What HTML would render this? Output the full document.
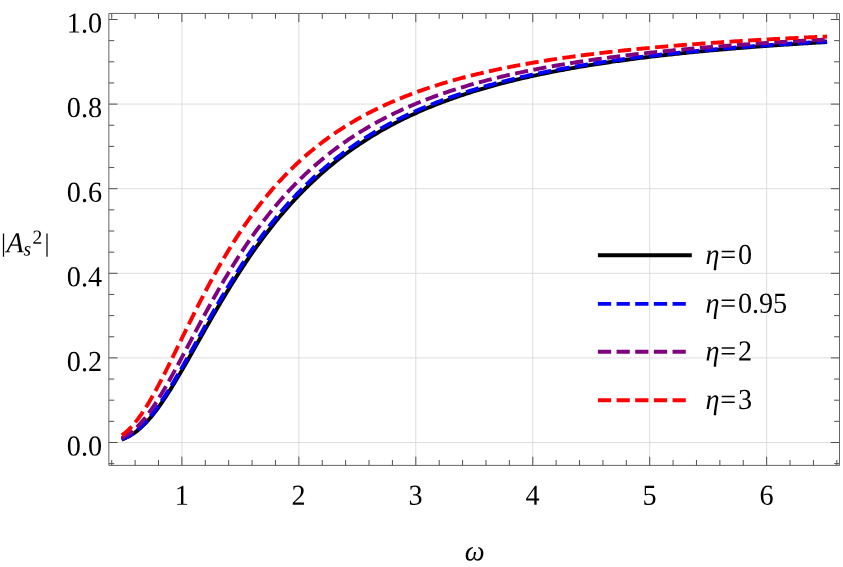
<!DOCTYPE html>
<html><head><meta charset="utf-8"><title>plot</title>
<style>html,body{margin:0;padding:0;background:#fff}body{width:843px;height:567px;position:relative;overflow:hidden;font-family:"Liberation Serif",serif}</style>
</head><body>
<svg width="843" height="567" viewBox="0 0 843 567" style="position:absolute;left:0;top:0;will-change:transform;opacity:0.999">
<path d="M181.90 13.45 V465.40 M298.85 13.45 V465.40 M415.80 13.45 V465.40 M532.75 13.45 V465.40 M649.70 13.45 V465.40 M766.65 13.45 V465.40 M108.85 442.50 H839.50 M108.85 357.90 H839.50 M108.85 273.30 H839.50 M108.85 188.70 H839.50 M108.85 104.10 H839.50" stroke="#dadada" stroke-width="0.9" fill="none"/>
<g fill="none" stroke-width="3.90" stroke-linecap="square" stroke-linejoin="round">
<path d="M123.43 438.83 L125.18 438.11 L126.93 437.31 L128.69 436.42 L130.44 435.44 L132.20 434.37 L133.95 433.21 L135.70 431.94 L137.46 430.59 L139.21 429.14 L140.97 427.59 L142.72 425.95 L144.48 424.22 L146.23 422.40 L147.98 420.49 L149.74 418.49 L151.49 416.41 L153.25 414.25 L155.00 412.01 L156.76 409.70 L158.51 407.31 L160.26 404.86 L162.02 402.34 L163.77 399.76 L165.53 397.13 L167.28 394.44 L169.04 391.69 L170.79 388.91 L172.54 386.07 L174.30 383.20 L176.05 380.29 L177.81 377.35 L179.56 374.38 L181.32 371.38 L183.07 368.36 L184.82 365.32 L186.58 362.25 L188.33 359.18 L190.09 356.09 L191.84 352.99 L193.60 349.88 L195.35 346.77 L197.10 343.66 L198.86 340.54 L200.61 337.43 L202.37 334.32 L204.12 331.22 L205.87 328.12 L207.63 325.03 L209.38 321.96 L211.14 318.89 L212.89 315.84 L214.65 312.80 L216.40 309.78 L218.15 306.78 L219.91 303.79 L221.66 300.82 L223.42 297.88 L225.17 294.95 L226.93 292.05 L228.68 289.16 L230.43 286.30 L232.19 283.47 L233.94 280.66 L235.70 277.87 L237.45 275.11 L239.21 272.37 L240.96 269.66 L242.71 266.98 L244.47 264.32 L246.22 261.69 L247.98 259.09 L249.73 256.51 L251.49 253.96 L253.24 251.44 L254.99 248.94 L256.75 246.48 L258.50 244.04 L260.26 241.62 L262.01 239.24 L263.76 236.88 L265.52 234.55 L267.27 232.25 L269.03 229.97 L270.78 227.72 L272.54 225.50 L274.29 223.30 L276.04 221.13 L277.80 218.99 L279.55 216.87 L281.31 214.78 L283.06 212.72 L284.82 210.68 L286.57 208.67 L288.32 206.68 L290.08 204.71 L291.83 202.77 L293.59 200.86 L295.34 198.97 L297.10 197.10 L298.85 195.26 L300.60 193.44 L302.36 191.64 L304.11 189.87 L305.87 188.12 L307.62 186.39 L309.38 184.68 L311.13 183.00 L312.88 181.34 L314.64 179.70 L316.39 178.08 L318.15 176.48 L319.90 174.90 L321.66 173.34 L323.41 171.80 L325.16 170.28 L326.92 168.78 L328.67 167.30 L330.43 165.84 L332.18 164.40 L333.94 162.98 L335.69 161.57 L337.44 160.18 L339.20 158.82 L340.95 157.46 L342.71 156.13 L344.46 154.81 L346.21 153.51 L347.97 152.23 L349.72 150.96 L351.48 149.71 L353.23 148.47 L354.99 147.25 L356.74 146.05 L358.49 144.86 L360.25 143.68 L362.00 142.52 L363.76 141.38 L365.51 140.25 L367.27 139.13 L369.02 138.03 L370.77 136.94 L372.53 135.86 L374.28 134.80 L376.04 133.75 L377.79 132.72 L379.55 131.69 L381.30 130.68 L383.05 129.68 L384.81 128.70 L386.56 127.72 L388.32 126.76 L390.07 125.81 L391.83 124.87 L393.58 123.95 L395.33 123.03 L397.09 122.13 L398.84 121.23 L400.60 120.35 L402.35 119.48 L404.11 118.62 L405.86 117.76 L407.61 116.92 L409.37 116.09 L411.12 115.27 L412.88 114.46 L414.63 113.66 L416.38 112.86 L418.14 112.08 L419.89 111.30 L421.65 110.54 L423.40 109.78 L425.16 109.03 L426.91 108.30 L428.66 107.57 L430.42 106.84 L432.17 106.13 L433.93 105.42 L435.68 104.73 L437.44 104.04 L439.19 103.36 L440.94 102.68 L442.70 102.02 L444.45 101.36 L446.21 100.71 L447.96 100.06 L449.72 99.42 L451.47 98.80 L453.22 98.17 L454.98 97.56 L456.73 96.95 L458.49 96.35 L460.24 95.75 L462.00 95.16 L463.75 94.58 L465.50 94.00 L467.26 93.43 L469.01 92.87 L470.77 92.31 L472.52 91.76 L474.27 91.21 L476.03 90.67 L477.78 90.14 L479.54 89.61 L481.29 89.09 L483.05 88.57 L484.80 88.06 L486.55 87.55 L488.31 87.05 L490.06 86.56 L491.82 86.07 L493.57 85.58 L495.33 85.10 L497.08 84.63 L498.83 84.16 L500.59 83.69 L502.34 83.23 L504.10 82.78 L505.85 82.32 L507.61 81.88 L509.36 81.44 L511.11 81.00 L512.87 80.56 L514.62 80.14 L516.38 79.71 L518.13 79.29 L519.89 78.88 L521.64 78.46 L523.39 78.06 L525.15 77.65 L526.90 77.25 L528.66 76.86 L530.41 76.47 L532.17 76.08 L533.92 75.69 L535.67 75.31 L537.43 74.94 L539.18 74.56 L540.94 74.20 L542.69 73.83 L544.44 73.47 L546.20 73.11 L547.95 72.75 L549.71 72.40 L551.46 72.05 L553.22 71.71 L554.97 71.37 L556.72 71.03 L558.48 70.69 L560.23 70.36 L561.99 70.03 L563.74 69.71 L565.50 69.38 L567.25 69.06 L569.00 68.75 L570.76 68.43 L572.51 68.12 L574.27 67.81 L576.02 67.51 L577.78 67.20 L579.53 66.90 L581.28 66.61 L583.04 66.31 L584.79 66.02 L586.55 65.73 L588.30 65.44 L590.06 65.16 L591.81 64.88 L593.56 64.60 L595.32 64.32 L597.07 64.05 L598.83 63.78 L600.58 63.51 L602.34 63.24 L604.09 62.98 L605.84 62.72 L607.60 62.46 L609.35 62.20 L611.11 61.94 L612.86 61.69 L614.62 61.44 L616.37 61.19 L618.12 60.95 L619.88 60.70 L621.63 60.46 L623.39 60.22 L625.14 59.98 L626.89 59.75 L628.65 59.51 L630.40 59.28 L632.16 59.05 L633.91 58.82 L635.67 58.60 L637.42 58.37 L639.17 58.15 L640.93 57.93 L642.68 57.71 L644.44 57.49 L646.19 57.28 L647.95 57.06 L649.70 56.85 L651.45 56.64 L653.21 56.43 L654.96 56.23 L656.72 56.02 L658.47 55.82 L660.23 55.62 L661.98 55.42 L663.73 55.22 L665.49 55.02 L667.24 54.83 L669.00 54.64 L670.75 54.44 L672.51 54.25 L674.26 54.07 L676.01 53.88 L677.77 53.69 L679.52 53.51 L681.28 53.33 L683.03 53.14 L684.78 52.96 L686.54 52.79 L688.29 52.61 L690.05 52.43 L691.80 52.26 L693.56 52.08 L695.31 51.91 L697.06 51.74 L698.82 51.57 L700.57 51.41 L702.33 51.24 L704.08 51.07 L705.84 50.91 L707.59 50.75 L709.34 50.59 L711.10 50.43 L712.85 50.27 L714.61 50.11 L716.36 49.95 L718.12 49.80 L719.87 49.64 L721.62 49.49 L723.38 49.34 L725.13 49.19 L726.89 49.04 L728.64 48.89 L730.40 48.74 L732.15 48.59 L733.90 48.45 L735.66 48.30 L737.41 48.16 L739.17 48.02 L740.92 47.88 L742.68 47.74 L744.43 47.60 L746.18 47.46 L747.94 47.32 L749.69 47.19 L751.45 47.05 L753.20 46.92 L754.96 46.79 L756.71 46.65 L758.46 46.52 L760.22 46.39 L761.97 46.26 L763.73 46.13 L765.48 46.01 L767.23 45.88 L768.99 45.75 L770.74 45.63 L772.50 45.50 L774.25 45.38 L776.01 45.26 L777.76 45.14 L779.51 45.02 L781.27 44.90 L783.02 44.78 L784.78 44.66 L786.53 44.54 L788.29 44.43 L790.04 44.31 L791.79 44.20 L793.55 44.08 L795.30 43.97 L797.06 43.86 L798.81 43.74 L800.57 43.63 L802.32 43.52 L804.07 43.41 L805.83 43.30 L807.58 43.20 L809.34 43.09 L811.09 42.98 L812.85 42.88 L814.60 42.77 L816.35 42.67 L818.11 42.56 L819.86 42.46 L821.62 42.36 L823.37 42.26 L825.12 42.15" stroke="#000"/>
<path d="M123.43 438.52 L125.18 437.76 L126.93 436.91 L128.69 435.96 L130.44 434.93 L132.20 433.79 L133.95 432.56 L135.70 431.23 L137.46 429.81 L139.21 428.28 L140.97 426.66 L142.72 424.95 L144.48 423.14 L146.23 421.24 L147.98 419.25 L149.74 417.17 L151.49 415.01 L153.25 412.77 L155.00 410.45 L156.76 408.05 L158.51 405.59 L160.26 403.06 L162.02 400.46 L163.77 397.80 L165.53 395.09 L167.28 392.32 L169.04 389.51 L170.79 386.65 L172.54 383.75 L174.30 380.81 L176.05 377.83 L177.81 374.82 L179.56 371.79 L181.32 368.73 L183.07 365.65 L184.82 362.55 L186.58 359.43 L188.33 356.30 L190.09 353.16 L191.84 350.02 L193.60 346.87 L195.35 343.71 L197.10 340.56 L198.86 337.40 L200.61 334.25 L202.37 331.11 L204.12 327.97 L205.87 324.84 L207.63 321.72 L209.38 318.62 L211.14 315.53 L212.89 312.45 L214.65 309.39 L216.40 306.35 L218.15 303.33 L219.91 300.33 L221.66 297.34 L223.42 294.38 L225.17 291.44 L226.93 288.53 L228.68 285.64 L230.43 282.77 L232.19 279.93 L233.94 277.11 L235.70 274.32 L237.45 271.56 L239.21 268.82 L240.96 266.11 L242.71 263.42 L244.47 260.77 L246.22 258.14 L247.98 255.54 L249.73 252.97 L251.49 250.42 L253.24 247.90 L254.99 245.42 L256.75 242.96 L258.50 240.52 L260.26 238.12 L262.01 235.75 L263.76 233.40 L265.52 231.08 L267.27 228.79 L269.03 226.52 L270.78 224.28 L272.54 222.07 L274.29 219.89 L276.04 217.74 L277.80 215.61 L279.55 213.50 L281.31 211.43 L283.06 209.38 L284.82 207.35 L286.57 205.36 L288.32 203.38 L290.08 201.44 L291.83 199.51 L293.59 197.61 L295.34 195.74 L297.10 193.89 L298.85 192.07 L300.60 190.26 L302.36 188.48 L304.11 186.73 L305.87 185.00 L307.62 183.29 L309.38 181.60 L311.13 179.93 L312.88 178.29 L314.64 176.66 L316.39 175.06 L318.15 173.48 L319.90 171.92 L321.66 170.38 L323.41 168.86 L325.16 167.36 L326.92 165.88 L328.67 164.42 L330.43 162.97 L332.18 161.55 L333.94 160.15 L335.69 158.76 L337.44 157.39 L339.20 156.04 L340.95 154.70 L342.71 153.39 L344.46 152.09 L346.21 150.81 L347.97 149.54 L349.72 148.29 L351.48 147.06 L353.23 145.84 L354.99 144.63 L356.74 143.45 L358.49 142.28 L360.25 141.12 L362.00 139.98 L363.76 138.85 L365.51 137.73 L367.27 136.64 L369.02 135.55 L370.77 134.48 L372.53 133.42 L374.28 132.37 L376.04 131.34 L377.79 130.32 L379.55 129.32 L381.30 128.32 L383.05 127.34 L384.81 126.37 L386.56 125.41 L388.32 124.47 L390.07 123.53 L391.83 122.61 L393.58 121.70 L395.33 120.80 L397.09 119.91 L398.84 119.03 L400.60 118.16 L402.35 117.30 L404.11 116.46 L405.86 115.62 L407.61 114.79 L409.37 113.98 L411.12 113.17 L412.88 112.37 L414.63 111.58 L416.38 110.81 L418.14 110.04 L419.89 109.28 L421.65 108.52 L423.40 107.78 L425.16 107.05 L426.91 106.32 L428.66 105.61 L430.42 104.90 L432.17 104.20 L433.93 103.50 L435.68 102.82 L437.44 102.14 L439.19 101.47 L440.94 100.81 L442.70 100.16 L444.45 99.51 L446.21 98.87 L447.96 98.24 L449.72 97.62 L451.47 97.00 L453.22 96.39 L454.98 95.79 L456.73 95.19 L458.49 94.60 L460.24 94.01 L462.00 93.44 L463.75 92.86 L465.50 92.30 L467.26 91.74 L469.01 91.19 L470.77 90.64 L472.52 90.10 L474.27 89.57 L476.03 89.04 L477.78 88.51 L479.54 88.00 L481.29 87.48 L483.05 86.98 L484.80 86.48 L486.55 85.98 L488.31 85.49 L490.06 85.00 L491.82 84.52 L493.57 84.05 L495.33 83.58 L497.08 83.11 L498.83 82.65 L500.59 82.20 L502.34 81.75 L504.10 81.30 L505.85 80.86 L507.61 80.42 L509.36 79.99 L511.11 79.56 L512.87 79.13 L514.62 78.71 L516.38 78.30 L518.13 77.89 L519.89 77.48 L521.64 77.08 L523.39 76.68 L525.15 76.28 L526.90 75.89 L528.66 75.51 L530.41 75.12 L532.17 74.74 L533.92 74.37 L535.67 73.99 L537.43 73.63 L539.18 73.26 L540.94 72.90 L542.69 72.54 L544.44 72.19 L546.20 71.84 L547.95 71.49 L549.71 71.14 L551.46 70.80 L553.22 70.47 L554.97 70.13 L556.72 69.80 L558.48 69.47 L560.23 69.15 L561.99 68.82 L563.74 68.51 L565.50 68.19 L567.25 67.88 L569.00 67.57 L570.76 67.26 L572.51 66.96 L574.27 66.65 L576.02 66.36 L577.78 66.06 L579.53 65.77 L581.28 65.48 L583.04 65.19 L584.79 64.90 L586.55 64.62 L588.30 64.34 L590.06 64.06 L591.81 63.79 L593.56 63.51 L595.32 63.24 L597.07 62.98 L598.83 62.71 L600.58 62.45 L602.34 62.19 L604.09 61.93 L605.84 61.67 L607.60 61.42 L609.35 61.17 L611.11 60.92 L612.86 60.67 L614.62 60.42 L616.37 60.18 L618.12 59.94 L619.88 59.70 L621.63 59.47 L623.39 59.23 L625.14 59.00 L626.89 58.77 L628.65 58.54 L630.40 58.31 L632.16 58.09 L633.91 57.86 L635.67 57.64 L637.42 57.42 L639.17 57.21 L640.93 56.99 L642.68 56.78 L644.44 56.57 L646.19 56.36 L647.95 56.15 L649.70 55.94 L651.45 55.74 L653.21 55.53 L654.96 55.33 L656.72 55.13 L658.47 54.93 L660.23 54.73 L661.98 54.54 L663.73 54.35 L665.49 54.15 L667.24 53.96 L669.00 53.77 L670.75 53.59 L672.51 53.40 L674.26 53.22 L676.01 53.03 L677.77 52.85 L679.52 52.67 L681.28 52.49 L683.03 52.32 L684.78 52.14 L686.54 51.97 L688.29 51.79 L690.05 51.62 L691.80 51.45 L693.56 51.28 L695.31 51.11 L697.06 50.95 L698.82 50.78 L700.57 50.62 L702.33 50.46 L704.08 50.30 L705.84 50.14 L707.59 49.98 L709.34 49.82 L711.10 49.66 L712.85 49.51 L714.61 49.35 L716.36 49.20 L718.12 49.05 L719.87 48.90 L721.62 48.75 L723.38 48.60 L725.13 48.45 L726.89 48.31 L728.64 48.16 L730.40 48.02 L732.15 47.87 L733.90 47.73 L735.66 47.59 L737.41 47.45 L739.17 47.31 L740.92 47.17 L742.68 47.04 L744.43 46.90 L746.18 46.77 L747.94 46.63 L749.69 46.50 L751.45 46.37 L753.20 46.24 L754.96 46.11 L756.71 45.98 L758.46 45.85 L760.22 45.72 L761.97 45.60 L763.73 45.47 L765.48 45.35 L767.23 45.22 L768.99 45.10 L770.74 44.98 L772.50 44.86 L774.25 44.74 L776.01 44.62 L777.76 44.50 L779.51 44.38 L781.27 44.26 L783.02 44.15 L784.78 44.03 L786.53 43.92 L788.29 43.81 L790.04 43.69 L791.79 43.58 L793.55 43.47 L795.30 43.36 L797.06 43.25 L798.81 43.14 L800.57 43.03 L802.32 42.92 L804.07 42.82 L805.83 42.71 L807.58 42.60 L809.34 42.50 L811.09 42.40 L812.85 42.29 L814.60 42.19 L816.35 42.09 L818.11 41.99 L819.86 41.89 L821.62 41.79 L823.37 41.69 L825.12 41.59" stroke="#0000ff" stroke-dasharray="9.33 9.33"/>
<path d="M123.43 437.20 L125.18 436.24 L126.93 435.18 L128.69 434.01 L130.44 432.73 L132.20 431.35 L133.95 429.86 L135.70 428.26 L137.46 426.55 L139.21 424.74 L140.97 422.83 L142.72 420.81 L144.48 418.70 L146.23 416.49 L147.98 414.20 L149.74 411.81 L151.49 409.34 L153.25 406.79 L155.00 404.16 L156.76 401.46 L158.51 398.69 L160.26 395.86 L162.02 392.97 L163.77 390.03 L165.53 387.03 L167.28 383.99 L169.04 380.91 L170.79 377.78 L172.54 374.62 L174.30 371.43 L176.05 368.22 L177.81 364.98 L179.56 361.72 L181.32 358.44 L183.07 355.15 L184.82 351.85 L186.58 348.55 L188.33 345.24 L190.09 341.92 L191.84 338.61 L193.60 335.30 L195.35 332.00 L197.10 328.70 L198.86 325.41 L200.61 322.14 L202.37 318.88 L204.12 315.63 L205.87 312.40 L207.63 309.19 L209.38 306.00 L211.14 302.83 L212.89 299.68 L214.65 296.55 L216.40 293.45 L218.15 290.37 L219.91 287.32 L221.66 284.30 L223.42 281.30 L225.17 278.33 L226.93 275.39 L228.68 272.47 L230.43 269.59 L232.19 266.74 L233.94 263.91 L235.70 261.12 L237.45 258.36 L239.21 255.62 L240.96 252.92 L242.71 250.25 L244.47 247.61 L246.22 245.00 L247.98 242.43 L249.73 239.88 L251.49 237.37 L253.24 234.88 L254.99 232.43 L256.75 230.00 L258.50 227.61 L260.26 225.25 L262.01 222.92 L263.76 220.62 L265.52 218.34 L267.27 216.10 L269.03 213.89 L270.78 211.70 L272.54 209.55 L274.29 207.42 L276.04 205.32 L277.80 203.25 L279.55 201.21 L281.31 199.19 L283.06 197.21 L284.82 195.25 L286.57 193.31 L288.32 191.40 L290.08 189.52 L291.83 187.66 L293.59 185.83 L295.34 184.02 L297.10 182.24 L298.85 180.48 L300.60 178.75 L302.36 177.04 L304.11 175.35 L305.87 173.69 L307.62 172.05 L309.38 170.43 L311.13 168.83 L312.88 167.26 L314.64 165.71 L316.39 164.18 L318.15 162.66 L319.90 161.17 L321.66 159.70 L323.41 158.25 L325.16 156.82 L326.92 155.41 L328.67 154.02 L330.43 152.65 L332.18 151.30 L333.94 149.96 L335.69 148.64 L337.44 147.34 L339.20 146.06 L340.95 144.79 L342.71 143.55 L344.46 142.31 L346.21 141.10 L347.97 139.90 L349.72 138.72 L351.48 137.55 L353.23 136.40 L354.99 135.26 L356.74 134.14 L358.49 133.03 L360.25 131.94 L362.00 130.86 L363.76 129.80 L365.51 128.75 L367.27 127.71 L369.02 126.69 L370.77 125.68 L372.53 124.69 L374.28 123.70 L376.04 122.73 L377.79 121.77 L379.55 120.83 L381.30 119.89 L383.05 118.97 L384.81 118.06 L386.56 117.16 L388.32 116.28 L390.07 115.40 L391.83 114.53 L393.58 113.68 L395.33 112.84 L397.09 112.00 L398.84 111.18 L400.60 110.37 L402.35 109.57 L404.11 108.77 L405.86 107.99 L407.61 107.22 L409.37 106.45 L411.12 105.70 L412.88 104.96 L414.63 104.22 L416.38 103.49 L418.14 102.77 L419.89 102.06 L421.65 101.36 L423.40 100.67 L425.16 99.99 L426.91 99.31 L428.66 98.64 L430.42 97.98 L432.17 97.33 L433.93 96.68 L435.68 96.05 L437.44 95.42 L439.19 94.79 L440.94 94.18 L442.70 93.57 L444.45 92.97 L446.21 92.37 L447.96 91.79 L449.72 91.21 L451.47 90.63 L453.22 90.07 L454.98 89.50 L456.73 88.95 L458.49 88.40 L460.24 87.86 L462.00 87.32 L463.75 86.79 L465.50 86.27 L467.26 85.75 L469.01 85.24 L470.77 84.73 L472.52 84.23 L474.27 83.73 L476.03 83.24 L477.78 82.76 L479.54 82.28 L481.29 81.81 L483.05 81.34 L484.80 80.87 L486.55 80.41 L488.31 79.96 L490.06 79.51 L491.82 79.06 L493.57 78.62 L495.33 78.19 L497.08 77.76 L498.83 77.33 L500.59 76.91 L502.34 76.49 L504.10 76.08 L505.85 75.67 L507.61 75.27 L509.36 74.87 L511.11 74.47 L512.87 74.08 L514.62 73.69 L516.38 73.31 L518.13 72.93 L519.89 72.55 L521.64 72.18 L523.39 71.81 L525.15 71.45 L526.90 71.09 L528.66 70.73 L530.41 70.38 L532.17 70.03 L533.92 69.68 L535.67 69.34 L537.43 69.00 L539.18 68.66 L540.94 68.33 L542.69 68.00 L544.44 67.67 L546.20 67.35 L547.95 67.03 L549.71 66.71 L551.46 66.39 L553.22 66.08 L554.97 65.78 L556.72 65.47 L558.48 65.17 L560.23 64.87 L561.99 64.57 L563.74 64.28 L565.50 63.99 L567.25 63.70 L569.00 63.41 L570.76 63.13 L572.51 62.85 L574.27 62.57 L576.02 62.30 L577.78 62.03 L579.53 61.76 L581.28 61.49 L583.04 61.23 L584.79 60.96 L586.55 60.70 L588.30 60.45 L590.06 60.19 L591.81 59.94 L593.56 59.69 L595.32 59.44 L597.07 59.19 L598.83 58.95 L600.58 58.71 L602.34 58.47 L604.09 58.23 L605.84 57.99 L607.60 57.76 L609.35 57.53 L611.11 57.30 L612.86 57.07 L614.62 56.85 L616.37 56.63 L618.12 56.40 L619.88 56.18 L621.63 55.97 L623.39 55.75 L625.14 55.54 L626.89 55.33 L628.65 55.12 L630.40 54.91 L632.16 54.70 L633.91 54.50 L635.67 54.29 L637.42 54.09 L639.17 53.89 L640.93 53.70 L642.68 53.50 L644.44 53.31 L646.19 53.11 L647.95 52.92 L649.70 52.73 L651.45 52.54 L653.21 52.36 L654.96 52.17 L656.72 51.99 L658.47 51.81 L660.23 51.63 L661.98 51.45 L663.73 51.27 L665.49 51.10 L667.24 50.92 L669.00 50.75 L670.75 50.58 L672.51 50.41 L674.26 50.24 L676.01 50.07 L677.77 49.90 L679.52 49.74 L681.28 49.57 L683.03 49.41 L684.78 49.25 L686.54 49.09 L688.29 48.93 L690.05 48.78 L691.80 48.62 L693.56 48.46 L695.31 48.31 L697.06 48.16 L698.82 48.01 L700.57 47.86 L702.33 47.71 L704.08 47.56 L705.84 47.41 L707.59 47.27 L709.34 47.12 L711.10 46.98 L712.85 46.84 L714.61 46.70 L716.36 46.56 L718.12 46.42 L719.87 46.28 L721.62 46.14 L723.38 46.01 L725.13 45.87 L726.89 45.74 L728.64 45.61 L730.40 45.48 L732.15 45.35 L733.90 45.22 L735.66 45.09 L737.41 44.96 L739.17 44.83 L740.92 44.71 L742.68 44.58 L744.43 44.46 L746.18 44.33 L747.94 44.21 L749.69 44.09 L751.45 43.97 L753.20 43.85 L754.96 43.73 L756.71 43.61 L758.46 43.49 L760.22 43.38 L761.97 43.26 L763.73 43.15 L765.48 43.03 L767.23 42.92 L768.99 42.81 L770.74 42.70 L772.50 42.59 L774.25 42.48 L776.01 42.37 L777.76 42.26 L779.51 42.15 L781.27 42.05 L783.02 41.94 L784.78 41.83 L786.53 41.73 L788.29 41.63 L790.04 41.52 L791.79 41.42 L793.55 41.32 L795.30 41.22 L797.06 41.12 L798.81 41.02 L800.57 40.92 L802.32 40.82 L804.07 40.72 L805.83 40.62 L807.58 40.53 L809.34 40.43 L811.09 40.34 L812.85 40.24 L814.60 40.15 L816.35 40.06 L818.11 39.96 L819.86 39.87 L821.62 39.78 L823.37 39.69 L825.12 39.60" stroke="#800080" stroke-dasharray="9.33 9.33"/>
<path d="M123.43 434.15 L125.18 432.77 L126.93 431.27 L128.69 429.64 L130.44 427.88 L132.20 425.99 L133.95 423.99 L135.70 421.86 L137.46 419.61 L139.21 417.25 L140.97 414.79 L142.72 412.21 L144.48 409.54 L146.23 406.77 L147.98 403.91 L149.74 400.97 L151.49 397.95 L153.25 394.85 L155.00 391.69 L156.76 388.46 L158.51 385.18 L160.26 381.84 L162.02 378.46 L163.77 375.03 L165.53 371.57 L167.28 368.08 L169.04 364.56 L170.79 361.01 L172.54 357.45 L174.30 353.87 L176.05 350.28 L177.81 346.68 L179.56 343.09 L181.32 339.49 L183.07 335.89 L184.82 332.30 L186.58 328.72 L188.33 325.15 L190.09 321.59 L191.84 318.05 L193.60 314.53 L195.35 311.03 L197.10 307.55 L198.86 304.09 L200.61 300.66 L202.37 297.26 L204.12 293.88 L205.87 290.54 L207.63 287.22 L209.38 283.94 L211.14 280.69 L212.89 277.47 L214.65 274.28 L216.40 271.13 L218.15 268.01 L219.91 264.93 L221.66 261.89 L223.42 258.88 L225.17 255.90 L226.93 252.97 L228.68 250.07 L230.43 247.20 L232.19 244.38 L233.94 241.59 L235.70 238.83 L237.45 236.11 L239.21 233.43 L240.96 230.79 L242.71 228.18 L244.47 225.61 L246.22 223.07 L247.98 220.57 L249.73 218.10 L251.49 215.67 L253.24 213.27 L254.99 210.91 L256.75 208.58 L258.50 206.29 L260.26 204.02 L262.01 201.79 L263.76 199.60 L265.52 197.43 L267.27 195.30 L269.03 193.20 L270.78 191.13 L272.54 189.09 L274.29 187.08 L276.04 185.10 L277.80 183.15 L279.55 181.22 L281.31 179.33 L283.06 177.46 L284.82 175.63 L286.57 173.82 L288.32 172.03 L290.08 170.28 L291.83 168.55 L293.59 166.84 L295.34 165.16 L297.10 163.50 L298.85 161.87 L300.60 160.27 L302.36 158.69 L304.11 157.13 L305.87 155.59 L307.62 154.08 L309.38 152.59 L311.13 151.12 L312.88 149.67 L314.64 148.24 L316.39 146.84 L318.15 145.45 L319.90 144.09 L321.66 142.74 L323.41 141.41 L325.16 140.11 L326.92 138.82 L328.67 137.55 L330.43 136.30 L332.18 135.07 L333.94 133.85 L335.69 132.66 L337.44 131.48 L339.20 130.31 L340.95 129.16 L342.71 128.03 L344.46 126.92 L346.21 125.82 L347.97 124.74 L349.72 123.67 L351.48 122.61 L353.23 121.58 L354.99 120.55 L356.74 119.54 L358.49 118.54 L360.25 117.56 L362.00 116.59 L363.76 115.64 L365.51 114.69 L367.27 113.76 L369.02 112.85 L370.77 111.94 L372.53 111.05 L374.28 110.17 L376.04 109.30 L377.79 108.44 L379.55 107.60 L381.30 106.76 L383.05 105.94 L384.81 105.13 L386.56 104.33 L388.32 103.54 L390.07 102.76 L391.83 101.99 L393.58 101.23 L395.33 100.47 L397.09 99.73 L398.84 99.00 L400.60 98.28 L402.35 97.57 L404.11 96.87 L405.86 96.17 L407.61 95.49 L409.37 94.81 L411.12 94.14 L412.88 93.48 L414.63 92.83 L416.38 92.19 L418.14 91.55 L419.89 90.92 L421.65 90.30 L423.40 89.69 L425.16 89.09 L426.91 88.49 L428.66 87.90 L430.42 87.32 L432.17 86.74 L433.93 86.17 L435.68 85.61 L437.44 85.06 L439.19 84.51 L440.94 83.97 L442.70 83.43 L444.45 82.90 L446.21 82.38 L447.96 81.86 L449.72 81.35 L451.47 80.85 L453.22 80.35 L454.98 79.86 L456.73 79.37 L458.49 78.89 L460.24 78.41 L462.00 77.94 L463.75 77.48 L465.50 77.02 L467.26 76.56 L469.01 76.12 L470.77 75.67 L472.52 75.23 L474.27 74.80 L476.03 74.37 L477.78 73.95 L479.54 73.53 L481.29 73.11 L483.05 72.70 L484.80 72.29 L486.55 71.89 L488.31 71.50 L490.06 71.10 L491.82 70.72 L493.57 70.33 L495.33 69.95 L497.08 69.58 L498.83 69.20 L500.59 68.84 L502.34 68.47 L504.10 68.11 L505.85 67.76 L507.61 67.41 L509.36 67.06 L511.11 66.71 L512.87 66.37 L514.62 66.03 L516.38 65.70 L518.13 65.37 L519.89 65.04 L521.64 64.72 L523.39 64.40 L525.15 64.08 L526.90 63.77 L528.66 63.46 L530.41 63.15 L532.17 62.84 L533.92 62.54 L535.67 62.24 L537.43 61.95 L539.18 61.66 L540.94 61.37 L542.69 61.08 L544.44 60.80 L546.20 60.52 L547.95 60.24 L549.71 59.96 L551.46 59.69 L553.22 59.42 L554.97 59.15 L556.72 58.89 L558.48 58.63 L560.23 58.37 L561.99 58.11 L563.74 57.86 L565.50 57.61 L567.25 57.36 L569.00 57.11 L570.76 56.86 L572.51 56.62 L574.27 56.38 L576.02 56.14 L577.78 55.91 L579.53 55.67 L581.28 55.44 L583.04 55.21 L584.79 54.99 L586.55 54.76 L588.30 54.54 L590.06 54.32 L591.81 54.10 L593.56 53.88 L595.32 53.67 L597.07 53.46 L598.83 53.25 L600.58 53.04 L602.34 52.83 L604.09 52.62 L605.84 52.42 L607.60 52.22 L609.35 52.02 L611.11 51.82 L612.86 51.63 L614.62 51.43 L616.37 51.24 L618.12 51.05 L619.88 50.86 L621.63 50.67 L623.39 50.49 L625.14 50.30 L626.89 50.12 L628.65 49.94 L630.40 49.76 L632.16 49.58 L633.91 49.41 L635.67 49.23 L637.42 49.06 L639.17 48.88 L640.93 48.71 L642.68 48.55 L644.44 48.38 L646.19 48.21 L647.95 48.05 L649.70 47.88 L651.45 47.72 L653.21 47.56 L654.96 47.40 L656.72 47.24 L658.47 47.09 L660.23 46.93 L661.98 46.78 L663.73 46.63 L665.49 46.47 L667.24 46.32 L669.00 46.18 L670.75 46.03 L672.51 45.88 L674.26 45.74 L676.01 45.59 L677.77 45.45 L679.52 45.31 L681.28 45.17 L683.03 45.03 L684.78 44.89 L686.54 44.75 L688.29 44.61 L690.05 44.48 L691.80 44.35 L693.56 44.21 L695.31 44.08 L697.06 43.95 L698.82 43.82 L700.57 43.69 L702.33 43.56 L704.08 43.44 L705.84 43.31 L707.59 43.19 L709.34 43.06 L711.10 42.94 L712.85 42.82 L714.61 42.70 L716.36 42.58 L718.12 42.46 L719.87 42.34 L721.62 42.22 L723.38 42.10 L725.13 41.99 L726.89 41.87 L728.64 41.76 L730.40 41.65 L732.15 41.53 L733.90 41.42 L735.66 41.31 L737.41 41.20 L739.17 41.09 L740.92 40.99 L742.68 40.88 L744.43 40.77 L746.18 40.67 L747.94 40.56 L749.69 40.46 L751.45 40.35 L753.20 40.25 L754.96 40.15 L756.71 40.05 L758.46 39.95 L760.22 39.85 L761.97 39.75 L763.73 39.65 L765.48 39.55 L767.23 39.46 L768.99 39.36 L770.74 39.26 L772.50 39.17 L774.25 39.07 L776.01 38.98 L777.76 38.89 L779.51 38.80 L781.27 38.70 L783.02 38.61 L784.78 38.52 L786.53 38.43 L788.29 38.35 L790.04 38.26 L791.79 38.17 L793.55 38.08 L795.30 38.00 L797.06 37.91 L798.81 37.82 L800.57 37.74 L802.32 37.66 L804.07 37.57 L805.83 37.49 L807.58 37.41 L809.34 37.32 L811.09 37.24 L812.85 37.16 L814.60 37.08 L816.35 37.00 L818.11 36.92 L819.86 36.84 L821.62 36.77 L823.37 36.69 L825.12 36.61" stroke="#ff0000" stroke-dasharray="9.33 9.33"/>
</g>
<path d="M111.73 465.40 v-5.40 M111.73 13.45 v5.40 M135.12 465.40 v-5.40 M135.12 13.45 v5.40 M158.51 465.40 v-5.40 M158.51 13.45 v5.40 M181.90 465.40 v-8.70 M181.90 13.45 v8.70 M205.29 465.40 v-5.40 M205.29 13.45 v5.40 M228.68 465.40 v-5.40 M228.68 13.45 v5.40 M252.07 465.40 v-5.40 M252.07 13.45 v5.40 M275.46 465.40 v-5.40 M275.46 13.45 v5.40 M298.85 465.40 v-8.70 M298.85 13.45 v8.70 M322.24 465.40 v-5.40 M322.24 13.45 v5.40 M345.63 465.40 v-5.40 M345.63 13.45 v5.40 M369.02 465.40 v-5.40 M369.02 13.45 v5.40 M392.41 465.40 v-5.40 M392.41 13.45 v5.40 M415.80 465.40 v-8.70 M415.80 13.45 v8.70 M439.19 465.40 v-5.40 M439.19 13.45 v5.40 M462.58 465.40 v-5.40 M462.58 13.45 v5.40 M485.97 465.40 v-5.40 M485.97 13.45 v5.40 M509.36 465.40 v-5.40 M509.36 13.45 v5.40 M532.75 465.40 v-8.70 M532.75 13.45 v8.70 M556.14 465.40 v-5.40 M556.14 13.45 v5.40 M579.53 465.40 v-5.40 M579.53 13.45 v5.40 M602.92 465.40 v-5.40 M602.92 13.45 v5.40 M626.31 465.40 v-5.40 M626.31 13.45 v5.40 M649.70 465.40 v-8.70 M649.70 13.45 v8.70 M673.09 465.40 v-5.40 M673.09 13.45 v5.40 M696.48 465.40 v-5.40 M696.48 13.45 v5.40 M719.87 465.40 v-5.40 M719.87 13.45 v5.40 M743.26 465.40 v-5.40 M743.26 13.45 v5.40 M766.65 465.40 v-8.70 M766.65 13.45 v8.70 M790.04 465.40 v-5.40 M790.04 13.45 v5.40 M813.43 465.40 v-5.40 M813.43 13.45 v5.40 M836.82 465.40 v-5.40 M836.82 13.45 v5.40 M108.85 463.65 h5.40 M839.50 463.65 h-5.40 M108.85 442.50 h8.70 M839.50 442.50 h-8.70 M108.85 421.35 h5.40 M839.50 421.35 h-5.40 M108.85 400.20 h5.40 M839.50 400.20 h-5.40 M108.85 379.05 h5.40 M839.50 379.05 h-5.40 M108.85 357.90 h8.70 M839.50 357.90 h-8.70 M108.85 336.75 h5.40 M839.50 336.75 h-5.40 M108.85 315.60 h5.40 M839.50 315.60 h-5.40 M108.85 294.45 h5.40 M839.50 294.45 h-5.40 M108.85 273.30 h8.70 M839.50 273.30 h-8.70 M108.85 252.15 h5.40 M839.50 252.15 h-5.40 M108.85 231.00 h5.40 M839.50 231.00 h-5.40 M108.85 209.85 h5.40 M839.50 209.85 h-5.40 M108.85 188.70 h8.70 M839.50 188.70 h-8.70 M108.85 167.55 h5.40 M839.50 167.55 h-5.40 M108.85 146.40 h5.40 M839.50 146.40 h-5.40 M108.85 125.25 h5.40 M839.50 125.25 h-5.40 M108.85 104.10 h8.70 M839.50 104.10 h-8.70 M108.85 82.95 h5.40 M839.50 82.95 h-5.40 M108.85 61.80 h5.40 M839.50 61.80 h-5.40 M108.85 40.65 h5.40 M839.50 40.65 h-5.40 M108.85 19.50 h8.70 M839.50 19.50 h-8.70" stroke="#505050" stroke-width="1.0" fill="none"/>
<rect x="108.85" y="13.45" width="730.65" height="451.95" fill="none" stroke="#5c5c5c" stroke-width="0.95" stroke-linejoin="round"/>
<g fill="none" stroke-width="3.90" stroke-linecap="square">
<path d="M599.85 255.30 H689.85" stroke="#000"/>
<path d="M599.85 303.90 H689.85" stroke="#0000ff" stroke-dasharray="9.33 9.33"/>
<path d="M599.85 351.70 H689.85" stroke="#800080" stroke-dasharray="9.33 9.33"/>
<path d="M599.85 400.20 H689.85" stroke="#ff0000" stroke-dasharray="9.33 9.33"/>
</g>
<g font-family="Liberation Serif, serif" font-size="28.20" fill="#000" text-rendering="geometricPrecision">
<text transform="translate(181.70 504.65) rotate(0.03) scale(1 1.0260)" text-anchor="middle" >1</text>
<text transform="translate(298.65 504.65) rotate(0.03) scale(1 1.0260)" text-anchor="middle" >2</text>
<text transform="translate(415.60 504.65) rotate(0.03) scale(1 1.0260)" text-anchor="middle" >3</text>
<text transform="translate(532.55 504.65) rotate(0.03) scale(1 1.0260)" text-anchor="middle" >4</text>
<text transform="translate(649.50 504.65) rotate(0.03) scale(1 1.0260)" text-anchor="middle" >5</text>
<text transform="translate(766.45 504.65) rotate(0.03) scale(1 1.0260)" text-anchor="middle" >6</text>
<text transform="translate(102.10 455.50) rotate(0.03) scale(1 1.0260)" text-anchor="end" >0.0</text>
<text transform="translate(102.10 370.90) rotate(0.03) scale(1 1.0260)" text-anchor="end" >0.2</text>
<text transform="translate(102.10 286.30) rotate(0.03) scale(1 1.0260)" text-anchor="end" >0.4</text>
<text transform="translate(102.10 201.70) rotate(0.03) scale(1 1.0260)" text-anchor="end" >0.6</text>
<text transform="translate(102.10 117.10) rotate(0.03) scale(1 1.0260)" text-anchor="end" >0.8</text>
<text transform="translate(102.10 32.50) rotate(0.03) scale(1 1.0260)" text-anchor="end" >1.0</text>
<text transform="translate(705.50 264.10) rotate(0.03) scale(1 1.0260)" text-anchor="start" ><tspan font-style="italic">η</tspan><tspan dx="0.8">=</tspan><tspan dx="1.7">0</tspan></text>
<text transform="translate(705.50 312.70) rotate(0.03) scale(1 1.0260)" text-anchor="start" ><tspan font-style="italic">η</tspan><tspan dx="0.8">=</tspan><tspan dx="1.7">0.95</tspan></text>
<text transform="translate(705.50 360.50) rotate(0.03) scale(1 1.0260)" text-anchor="start" ><tspan font-style="italic">η</tspan><tspan dx="0.8">=</tspan><tspan dx="1.7">2</tspan></text>
<text transform="translate(705.50 409.00) rotate(0.03) scale(1 1.0260)" text-anchor="start" ><tspan font-style="italic">η</tspan><tspan dx="0.8">=</tspan><tspan dx="1.7">3</tspan></text>
<text transform="translate(464.80 560.40) rotate(0.03) scale(1 1.0260)" text-anchor="start" font-style="italic">ω</text>
<text transform="translate(1.10 252.30) rotate(0.03) scale(1 1.0260)" text-anchor="start" ><tspan font-size="25" dy="-1.07">|</tspan><tspan font-style="italic" dy="1.07" dx="0.46">A</tspan><tspan font-style="italic" font-size="19.5" dy="3" dx="-0.3">s</tspan><tspan font-size="19.5" dy="-11.3" dx="1.4">2</tspan><tspan font-size="25" dy="7.23" dx="2.33">|</tspan></text>
</g>
</svg>
</body></html>
